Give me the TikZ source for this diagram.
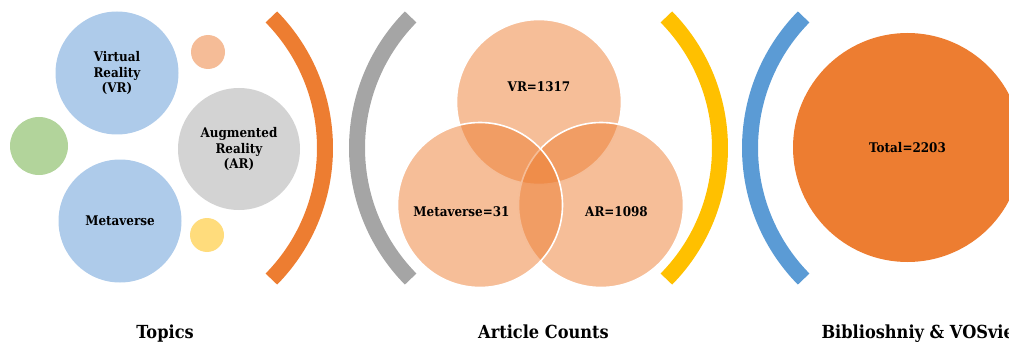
\documentclass[tikz,border=0pt]{standalone}
\usepackage{fontspec}
\setmainfont{DejaVu Serif}[FakeStretch=0.9]
\begin{document}
\begin{tikzpicture}[x=1pt,y=-1pt,
  bubble/.style={circle,inner sep=0pt,minimum size=#1,align=center,
    font=\bfseries\fontsize{13.3}{15.5}\selectfont,text=black},
  venn/.style={circle,inner sep=0pt,minimum size=165pt,fill=vennor,
    fill opacity=0.5,draw=white,draw opacity=1,line width=1.6pt},
  vlabel/.style={font=\bfseries\fontsize{13.3}{15.5}\selectfont,text=black},
  caption/.style={font=\bfseries\fontsize{18}{20}\selectfont,text=black,anchor=base},
  bracket/.style={line width=16pt}
]
\definecolor{vennor}{HTML}{ED7D31}
\definecolor{orangeA}{HTML}{ED7D31}
\definecolor{grayA}{HTML}{A5A5A5}
\definecolor{yellowA}{HTML}{FFC000}
\definecolor{blueA}{HTML}{5B9BD5}
\definecolor{lblue}{HTML}{AECBEA}
\definecolor{lgray}{HTML}{D3D3D3}
\definecolor{lgreen}{HTML}{B2D49B}
\definecolor{lorange}{HTML}{F5BC97}
\definecolor{lyellow}{HTML}{FFDC7C}

\useasboundingbox (0,0) rectangle (1009,342);
\clip (0,0) rectangle (1009,342);

% Topics panel
\node[bubble=123pt,fill=lblue] (vr) at (117,73) {Virtual\\Reality\\(VR)};
\node[bubble=58pt,fill=lgreen] (green) at (39,146) {};
\node[bubble=123pt,fill=lblue] (meta) at (120,221) {Metaverse};
\node[bubble=122pt,fill=lgray] (ar) at (239,149) {Augmented\\Reality\\(AR)};
\node[bubble=34pt,fill=lorange] (dotA) at (208,52) {};
\node[bubble=34pt,fill=lyellow] (dotB) at (207,235) {};

% bracket arcs
\coordinate (c1) at (138,148);
\coordinate (c2) at (544,148);
\coordinate (c3) at (533,148);
\coordinate (c4) at (937,148);
\draw[bracket,orangeA] ([shift={(-44.5:187pt)}]c1) arc[start angle=-44.5,end angle=44.5,radius=187pt];
\draw[bracket,grayA] ([shift={(135.5:187pt)}]c2) arc[start angle=135.5,end angle=224.5,radius=187pt];
\draw[bracket,yellowA] ([shift={(-44.5:187pt)}]c3) arc[start angle=-44.5,end angle=44.5,radius=187pt];
\draw[bracket,blueA] ([shift={(135.5:187pt)}]c4) arc[start angle=135.5,end angle=224.5,radius=187pt];

% Article counts (Venn)
\node[venn] (vvr) at (539,102) {};
\node[venn] (var) at (601,205) {};
\node[venn] (vmeta) at (480,205) {};
\node[vlabel] (lvr) at (539,87) {VR=1317};
\node[vlabel] (lmeta) at (461.5,212) {Metaverse=31};
\node[vlabel] (lar) at (616.5,212) {AR=1098};

% Total
\node[bubble=229pt,fill=orangeA] (total) at (907.5,147.5) {Total=2203};

% captions
\node[caption] (capA) at (165,338) {Topics};
\node[caption] (capB) at (543.5,338) {Article Counts};
\node[caption,anchor=base west] (capC) at (818,338) {Biblioshniy \& VOSviewer};
\end{tikzpicture}
\end{document}
